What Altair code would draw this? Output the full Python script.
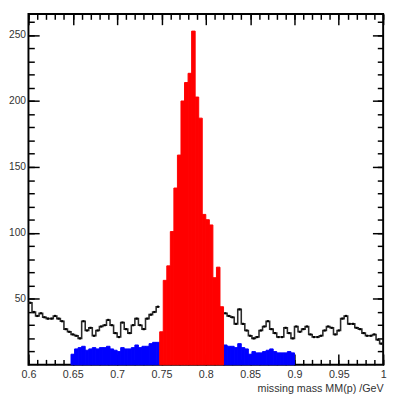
import altair as alt
import pandas as pd

FONT = "Liberation Sans"
BIN_W = 0.004

# black histogram (all events), outside the signal window
black_left_start = 0.6
black_left = [47, 40, 37, 39, 36, 35, 35, 37, 35, 33, 27, 25, 23, 22, 20, 33, 26, 28,
              22, 26, 29, 30, 34, 30, 24, 21, 32, 27, 24, 30, 35, 30, 27, 35, 38, 40, 44]
black_right_start = 0.82
black_right = [39, 37, 36, 31, 42, 31, 26, 22, 20, 21, 26, 29, 33, 27, 24, 21, 21, 28,
               24, 20, 29, 25, 27, 29, 23, 21, 21, 22, 26, 29, 28, 23, 26, 35, 37, 31,
               31, 28, 27, 24, 22, 22, 23, 19, 16]

# blue side-band histogram
blue_left_start = 0.648
blue_left = [8, 12, 13, 14, 11, 12, 13, 12, 13, 13, 14, 12, 11, 10, 13, 12, 12, 13,
             15, 13, 14, 14, 16, 17, 17]
blue_right_start = 0.82
blue_right = [15, 14, 14, 13, 16, 13, 12, 8, 10, 9, 9, 10, 11, 12, 10, 9, 9, 9, 10, 9]

# red signal histogram
red_start = 0.748
red = [25, 64, 75, 101, 134, 159, 200, 214, 221, 253, 203, 187, 114, 110, 106, 66, 74, 44]

x_major = [0.6, 0.65, 0.7, 0.75, 0.8, 0.85, 0.9, 0.95, 1.0]
x_minor = [round(0.6 + 0.01 * i, 2) for i in range(41)]
y_major = [50, 100, 150, 200, 250]
y_minor = list(range(10, 270, 10))


def bins(start, values, seg=""):
    rows = []
    for i, v in enumerate(values):
        lo = round(start + i * BIN_W, 4)
        rows.append({"lo": lo, "hi": round(lo + BIN_W, 4), "mid": round(lo + BIN_W / 2, 4),
                     "v": v, "seg": seg, "i": i})
    return rows


blue_df = pd.DataFrame(bins(blue_left_start, blue_left) + bins(blue_right_start, blue_right))
red_df = pd.DataFrame(bins(red_start, red))
black_bins = bins(black_left_start, black_left, "a") + bins(black_right_start, black_right, "b")
black_pts = pd.DataFrame(black_bins)
steps = []
for r in black_bins:
    steps.append({"x": r["lo"], "v": r["v"], "seg": r["seg"], "o": r["i"] * 2})
    steps.append({"x": r["hi"], "v": r["v"], "seg": r["seg"], "o": r["i"] * 2 + 1})
steps_df = pd.DataFrame(steps)

xs = alt.Scale(domain=[0.6, 1.0], nice=False, zero=False)
ys = alt.Scale(domain=[0, 266], nice=False, zero=True)

tick_common = dict(domain=False, grid=False, tickColor="black", tickWidth=1.5)

ax_x_bottom = alt.Axis(orient="bottom", values=x_major, tickSize=11, offset=-11,
                       labelPadding=4, format=".2~f", labelFlush=False, labelOverlap=False,
                       labelFont=FONT, labelFontSize=11, labelColor="#333",
                       title="missing mass MM(p) /GeV", titleAnchor="end", titleFont=FONT,
                       titleFontSize=11, titleFontWeight="normal", titleColor="#333",
                       titlePadding=3, **tick_common)
ax_x_bottom_minor = alt.Axis(orient="bottom", values=x_minor, tickSize=5.5, offset=-5.5,
                             labels=False, title=None, **tick_common)
ax_x_top = alt.Axis(orient="top", values=x_major, tickSize=11, offset=-11,
                    labels=False, title=None, **tick_common)
ax_x_top_minor = alt.Axis(orient="top", values=x_minor, tickSize=5.5, offset=-5.5,
                          labels=False, title=None, **tick_common)

ax_y_left = alt.Axis(orient="left", values=y_major, tickSize=11, offset=-11,
                     labelPadding=3, labelFont=FONT, labelFontSize=10.5, labelColor="#333",
                     labelOverlap=False, title=None, **tick_common)
ax_y_left_minor = alt.Axis(orient="left", values=y_minor, tickSize=6, offset=-6,
                           labels=False, title=None, **tick_common)
ax_y_right = alt.Axis(orient="right", values=y_major, tickSize=11, offset=-11,
                      labels=False, title=None, **tick_common)
ax_y_right_minor = alt.Axis(orient="right", values=y_minor, tickSize=6, offset=-6,
                            labels=False, title=None, **tick_common)

blue = alt.Chart(blue_df).mark_bar(color="#0000ff", stroke="#0000ff", strokeWidth=1).encode(
    x=alt.X("lo:Q", scale=xs, axis=ax_x_bottom),
    x2="hi:Q",
    y=alt.Y("v:Q", scale=ys, axis=ax_y_left),
    y2=alt.datum(0),
)

black_line = alt.Chart(steps_df).mark_line(color="#2a2a2a", strokeWidth=1.6).encode(
    x=alt.X("x:Q", scale=xs, axis=ax_x_bottom_minor),
    y=alt.Y("v:Q", scale=ys, axis=ax_y_left_minor),
    detail="seg:N",
    order="o:Q",
)

red_bars = alt.Chart(red_df).mark_bar(color="#ff0000", stroke="#ff0000", strokeWidth=1).encode(
    x=alt.X("lo:Q", scale=xs, axis=ax_x_top),
    x2="hi:Q",
    y=alt.Y("v:Q", scale=ys, axis=ax_y_right),
    y2=alt.datum(0),
)

black_dots = alt.Chart(black_pts).mark_point(filled=True, shape="square", size=5,
                                             color="#000", opacity=1).encode(
    x=alt.X("mid:Q", scale=xs, axis=ax_x_top_minor),
    y=alt.Y("v:Q", scale=ys, axis=ax_y_right_minor),
)

chart = alt.layer(blue, black_line, red_bars, black_dots).resolve_axis(
    x="independent", y="independent"
).properties(
    width=364, height=360,
    padding={"left": 0, "top": 0, "right": 2, "bottom": 0},
).configure_view(stroke="black", strokeWidth=2)

chart.save("out.html", embed_options={"renderer": "svg", "actions": False})
